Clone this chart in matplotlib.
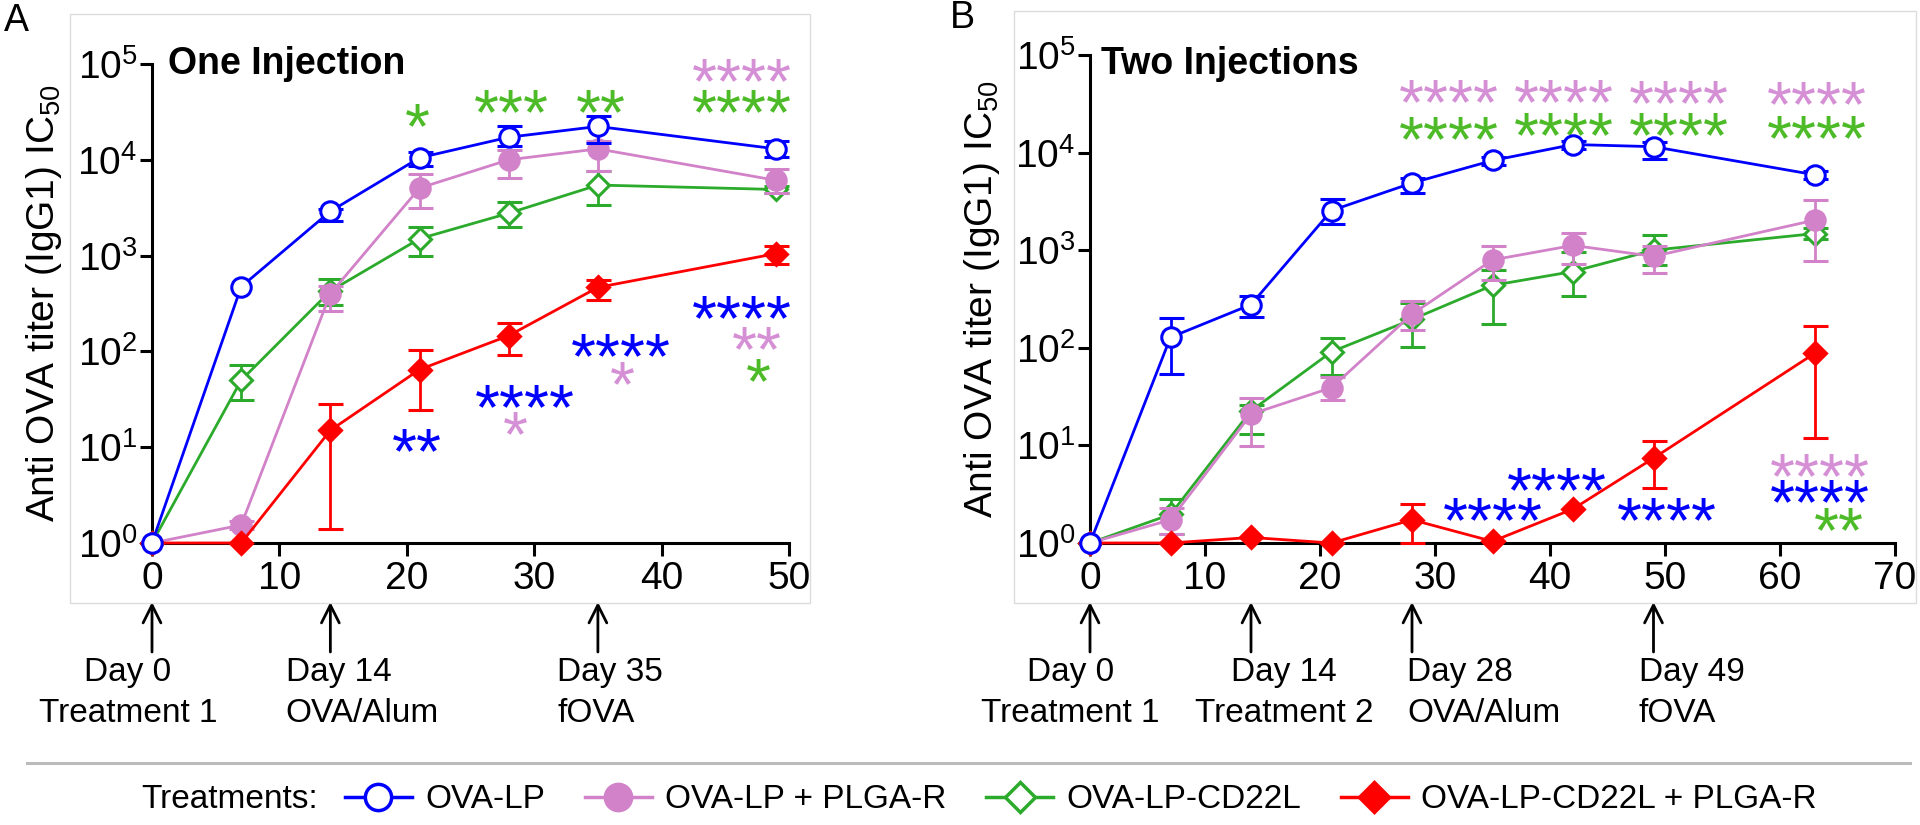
import numpy as np
import matplotlib
matplotlib.use('Agg')
import matplotlib.pyplot as plt
import matplotlib.transforms as mtransforms
from matplotlib.lines import Line2D
from matplotlib.patches import Rectangle
from matplotlib.ticker import LogLocator, NullLocator

plt.rcParams['font.family'] = ['Liberation Sans', 'DejaVu Sans']
plt.rcParams['mathtext.fontset'] = 'custom'
plt.rcParams['mathtext.rm'] = 'Liberation Sans'
plt.rcParams['mathtext.it'] = 'Liberation Sans:italic'
plt.rcParams['mathtext.bf'] = 'Liberation Sans:bold'

BLUE = '#0000FF'
PINK = '#D282C8'
GREEN = '#2BAA2B'
RED = '#FF0000'
PINK_STAR = '#D590D5'
GREEN_STAR = '#4DBB28'

labels = ['OVA-LP', 'OVA-LP + PLGA-R', 'OVA-LP-CD22L', 'OVA-LP-CD22L + PLGA-R']

# ---- panel A, one injection
days_a = [0, 7, 14, 21, 28, 35, 49]

a_lp = [1, 473, 2900, 10500, 17200, 22300, 13000]
a_lp_lo = [1, 473, 2280, 8660, 13800, 15100, 10700]
a_lp_hi = [1, 473, 3100, 12200, 22300, 28700, 15800]

a_plga = [1, 1.54, 400, 5070, 10000, 13000, 6100]
a_plga_lo = [1, 1.4, 266, 3130, 6500, 7600, 4540]
a_plga_hi = [1, 1.7, 486, 7100, 12700, 15800, 7940]

a_cd22 = [1, 50, 427, 1500, 2770, 5450, 4900]
a_cd22_lo = [1, 31, 302, 980, 2000, 3360, 4500]
a_cd22_hi = [1, 72, 567, 2000, 3650, 7600, 5300]

a_cd22_plga = [1, 1, 15, 64.6, 146, 466, 1050]
a_cd22_plga_lo = [1, 1, 1.41, 24.7, 92, 344, 813]
a_cd22_plga_hi = [1, 1, 28.5, 103, 197, 560, 1250]

# ---- panel B, two injections
days_b = [0, 7, 14, 21, 28, 35, 42, 49, 63]

b_lp = [1, 128, 277, 2550, 4880, 8300, 12100, 11500, 5930]
b_lp_lo = [1, 53.5, 207, 1850, 3890, 7500, 11000, 8700, 5400]
b_lp_hi = [1, 203, 343, 3370, 5450, 9000, 13000, 12800, 6500]

b_plga = [1, 1.73, 20.9, 39, 221, 795, 1120, 865, 2030]
b_plga_lo = [1, 1.23, 9.9, 29.2, 151, 490, 720, 583, 784]
b_plga_hi = [1, 2.3, 30.4, 50.4, 302, 1100, 1510, 1100, 3300]

b_cd22 = [1, 1.96, 22.6, 91, 195, 436, 605, 1000, 1480]
b_cd22_lo = [1, 1.25, 13, 52.6, 103, 176, 343, 700, 1300]
b_cd22_hi = [1, 2.8, 26, 126, 290, 620, 966, 1440, 1700]

b_cd22_plga = [1, 1, 1.14, 1, 1.73, 1.04, 2.23, 7.4, 87.6]
b_cd22_plga_lo = [1, 1, 1.14, 1, 1.0, 1.04, 2.23, 3.7, 12]
b_cd22_plga_hi = [1, 1, 1.14, 1, 2.49, 1.04, 2.23, 11.2, 167]

# significance stars: day, log10 height, text, colour
stars_a_day = [20.8, 28.2, 35.2, 46.3, 46.3, 46.3, 47.5, 47.6, 36.8, 36.9, 29.3, 28.5, 20.8]
stars_a_dec = [4.51, 4.65, 4.65, 4.98, 4.65, 2.50, 2.18, 1.85, 2.11, 1.81, 1.57, 1.29, 1.12]
stars_a_txt = ['*', '***', '**', '****', '****', '****', '**', '*', '****', '*', '****', '*', '**']
stars_a_col = [GREEN_STAR, GREEN_STAR, GREEN_STAR, PINK_STAR, GREEN_STAR, BLUE, PINK_STAR,
               GREEN_STAR, BLUE, PINK_STAR, BLUE, PINK_STAR, BLUE]

stars_b_day = [31.2, 31.2, 41.2, 41.2, 51.2, 51.2, 63.2, 63.2, 40.6, 35.0, 50.2, 63.5, 63.5, 65.1]
stars_b_dec = [4.67, 4.29, 4.67, 4.33, 4.66, 4.33, 4.65, 4.30, 0.70, 0.385, 0.385, 0.84, 0.57, 0.29]
stars_b_txt = ['****'] * 13 + ['**']
stars_b_col = [PINK_STAR, GREEN_STAR, PINK_STAR, GREEN_STAR, PINK_STAR, GREEN_STAR, PINK_STAR,
               GREEN_STAR, BLUE, BLUE, BLUE, PINK_STAR, BLUE, GREEN_STAR]

# events under the time axis
events_a_day = [0, 14, 35]
events_a_top = ['Day 0', 'Day 14', 'Day 35']
events_a_bot = ['Treatment 1', 'OVA/Alum', 'fOVA']
events_a_tx = [-1.9, 10.5, 31.8]
events_a_ha = ['center', 'left', 'left']

events_b_day = [0, 14, 28, 49]
events_b_top = ['Day 0', 'Day 14', 'Day 28', 'Day 49']
events_b_bot = ['Treatment 1', 'Treatment 2', 'OVA/Alum', 'fOVA']
events_b_tx = [-1.7, 16.9, 27.6, 47.7]
events_b_ha = ['center', 'center', 'left', 'left']

styles = [
    dict(color=BLUE, marker='o', mfc='white', ms=14),
    dict(color=PINK, marker='o', mfc=PINK, ms=14),
    dict(color=GREEN, marker='D', mfc='white', ms=11),
    dict(color=RED, marker='D', mfc=RED, ms=11.5),
]


def plot_series(ax, x, y, lo, hi, st, z):
    x = np.array(x, float)
    y = np.array(y, float)
    lo = np.array(lo, float)
    hi = np.array(hi, float)
    m = hi > lo
    if m.any():
        eb = ax.errorbar(x[m], y[m], yerr=[y[m] - lo[m], hi[m] - y[m]], fmt='none',
                         ecolor=st['color'], elinewidth=2, capsize=9, capthick=2.2, zorder=z)
        for art in eb.get_children():
            art.set_clip_on(False)
    ax.plot(x, y, color=st['color'], lw=2, marker=st['marker'], ms=st['ms'],
            mfc=st['mfc'], mec=st['color'], mew=2.2, clip_on=False, zorder=z + 0.5)


def style_axes(ax, xmax):
    ax.set_yscale('log')
    ax.set_ylim(1, 1e5)
    ax.set_xlim(0, xmax)
    ax.set_xticks(np.arange(0, xmax + 1, 10))
    ax.yaxis.set_major_locator(LogLocator(base=10, numticks=10))
    ax.yaxis.set_minor_locator(NullLocator())
    for s in ['top', 'right']:
        ax.spines[s].set_visible(False)
    for s in ['left', 'bottom']:
        ax.spines[s].set_linewidth(2.2)
    ax.tick_params(axis='both', length=9, width=2.2, labelsize=28)
    ax.tick_params(axis='x', pad=4)
    ax.tick_params(axis='y', pad=1.5)
    ax.set_ylabel('Anti OVA titer (IgG1) IC$_{\\mathdefault{50}}$', fontsize=28, labelpad=10)
    ax.patch.set_alpha(0)


def draw_stars(ax, days, decs, txts, cols):
    fs = 46
    for d, h, t, c in zip(days, decs, txts, cols):
        ax.annotate(t, xy=(d, 10 ** h), xytext=(0, -0.58 * fs), textcoords='offset points',
                    ha='center', va='baseline', fontsize=fs, color=c, annotation_clip=False)


def draw_events(fig, ax, days, tops, bots, tx, ha):
    tr = mtransforms.blended_transform_factory(ax.transData, fig.transFigure)
    for d in days:
        ax.annotate('', xy=(d, 1 - 602 / 825), xytext=(d, 1 - 652 / 825), xycoords=tr,
                    textcoords=tr, annotation_clip=False,
                    arrowprops=dict(arrowstyle='->', lw=2, color='black', mutation_scale=32,
                                    shrinkA=0, shrinkB=0))
    for t1, t2, x, h in zip(tops, bots, tx, ha):
        ax.text(x, 1 - 672 / 825, t1, transform=tr, ha=h, va='center', fontsize=24)
        ax.text(x, 1 - 713 / 825, t2, transform=tr, ha=h, va='center', fontsize=24)


fig = plt.figure(figsize=(19.2, 8.25), dpi=100)

# panel frames
fig.add_artist(Rectangle((70 / 1920, 1 - 603 / 825), 740 / 1920, 589 / 825,
                         transform=fig.transFigure, fill=False, ec='#DCDCDC', lw=1))
fig.add_artist(Rectangle((1014 / 1920, 1 - 603 / 825), 902 / 1920, 592 / 825,
                         transform=fig.transFigure, fill=False, ec='#DCDCDC', lw=1))

ax_a = fig.add_axes([152 / 1920, 1 - 543 / 825, 637 / 1920, 479 / 825])
ax_b = fig.add_axes([1090 / 1920, 1 - 543 / 825, 805 / 1920, 488 / 825])

series_a = [(a_lp, a_lp_lo, a_lp_hi), (a_plga, a_plga_lo, a_plga_hi),
            (a_cd22, a_cd22_lo, a_cd22_hi), (a_cd22_plga, a_cd22_plga_lo, a_cd22_plga_hi)]
series_b = [(b_lp, b_lp_lo, b_lp_hi), (b_plga, b_plga_lo, b_plga_hi),
            (b_cd22, b_cd22_lo, b_cd22_hi), (b_cd22_plga, b_cd22_plga_lo, b_cd22_plga_hi)]

# draw order: green, pink, red, blue on top
order = [2, 1, 3, 0]
for k, i in enumerate(order):
    y, lo, hi = series_a[i]
    plot_series(ax_a, days_a, y, lo, hi, styles[i], 3 + k)
    y, lo, hi = series_b[i]
    plot_series(ax_b, days_b, y, lo, hi, styles[i], 3 + k)

style_axes(ax_a, 50)
style_axes(ax_b, 70)

ax_a.text(0.025, 1.0, 'One Injection', transform=ax_a.transAxes, fontsize=27,
          fontweight='bold', ha='left', va='center')
ax_b.text(0.0137, 0.9816, 'Two Injections', transform=ax_b.transAxes, fontsize=27,
          fontweight='bold', ha='left', va='center')

draw_stars(ax_a, stars_a_day, stars_a_dec, stars_a_txt, stars_a_col)
draw_stars(ax_b, stars_b_day, stars_b_dec, stars_b_txt, stars_b_col)

draw_events(fig, ax_a, events_a_day, events_a_top, events_a_bot, events_a_tx, events_a_ha)
draw_events(fig, ax_b, events_b_day, events_b_top, events_b_bot, events_b_tx, events_b_ha)

fig.text(16 / 1920, 1 - 21 / 825, 'A', fontsize=27, ha='center', va='center')
fig.text(962 / 1920, 1 - 18 / 825, 'B', fontsize=27, ha='center', va='center')

# separator and legend
fig.add_artist(Line2D([27 / 1920, 1910 / 1920], [1 - 763 / 825, 1 - 763 / 825],
                      transform=fig.transFigure, color='#BBBBBB', lw=2.2))

handles = [Line2D([], [], color=st['color'], lw=2.5, marker=st['marker'], mfc=st['mfc'],
                  mec=st['color'], mew=2.5, ms=st['ms'] * 1.35) for st in styles]
fig.legend(handles, labels, loc='center left', bbox_to_anchor=(345 / 1920, 1 - 800 / 825),
           ncol=4, frameon=False, fontsize=24, handlelength=2.0, handletextpad=0.4,
           columnspacing=1.2, borderpad=0, borderaxespad=0)
fig.text(318 / 1920, 1 - 800 / 825, 'Treatments:', fontsize=24, ha='right', va='center')

fig.savefig('out.png', dpi=100)
